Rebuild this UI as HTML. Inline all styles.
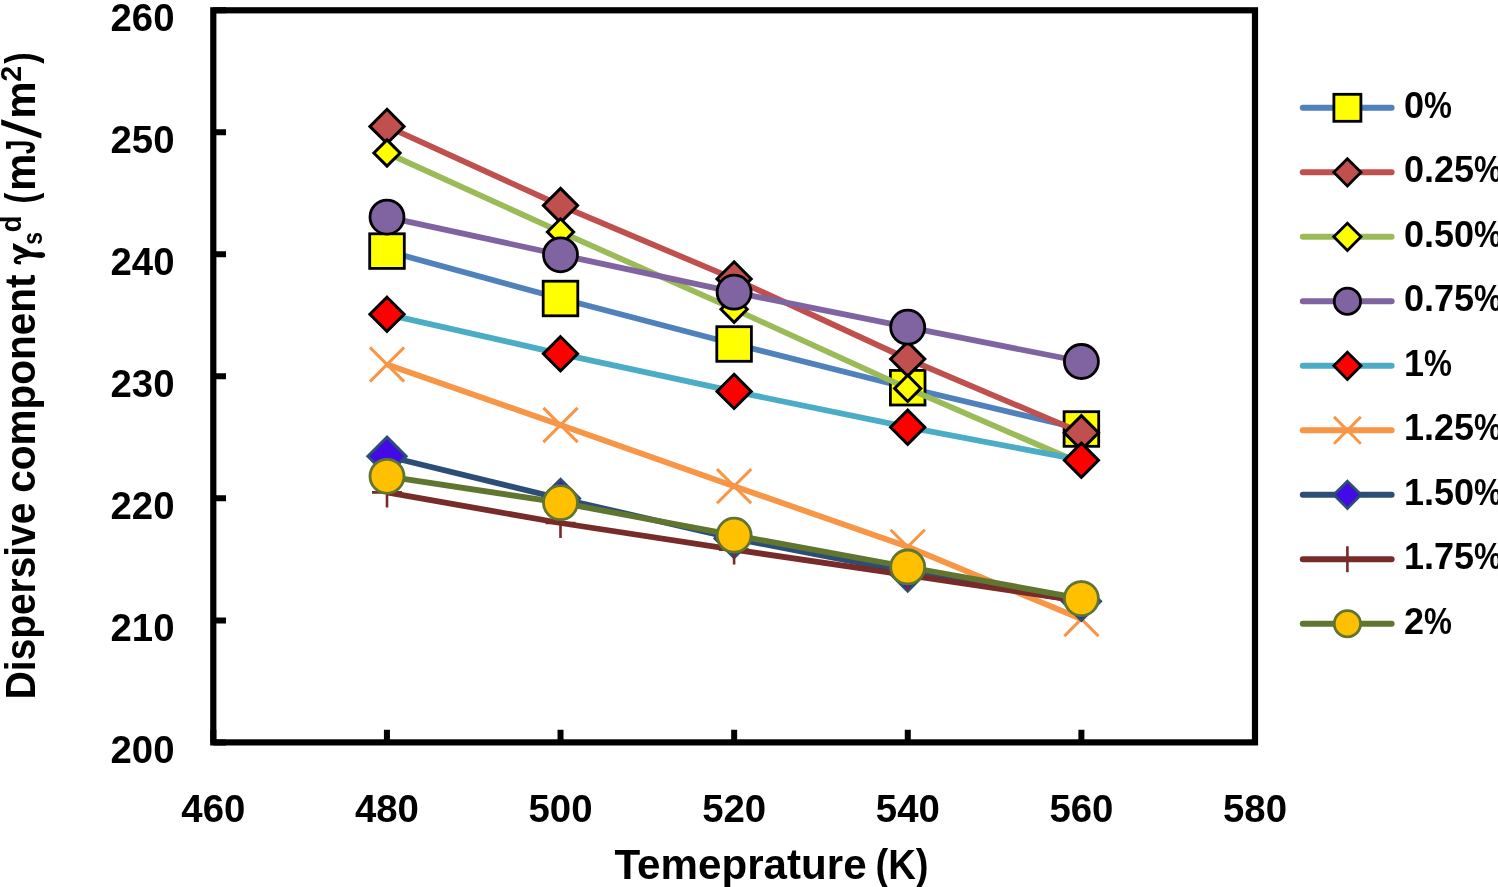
<!DOCTYPE html>
<html><head><meta charset="utf-8"><title>Dispersive component vs Temperature</title>
<style>
html,body{margin:0;padding:0;background:#fff;}
body{width:1498px;height:887px;overflow:hidden;}
svg{display:block;will-change:transform;}
text{font-family:"Liberation Sans",sans-serif;font-weight:bold;fill:#000;}
</style></head><body>
<svg width="1498" height="887" viewBox="0 0 1498 887">
<rect width="1498" height="887" fill="#fff"/>

<rect x="213.3" y="10.3" width="1041.7" height="732.1" fill="none" stroke="#000" stroke-width="6.2"/>
<path d="M213.3 10.30H226.0M213.3 132.32H226.0M213.3 254.33H226.0M213.3 376.35H226.0M213.3 498.37H226.0M213.3 620.38H226.0M213.3 742.40H226.0M213.30 742.4V729.8M386.92 742.4V729.8M560.53 742.4V729.8M734.15 742.4V729.8M907.77 742.4V729.8M1081.38 742.4V729.8M1255.00 742.4V729.8" stroke="#000" stroke-width="6" fill="none"/>
<text x="174.5" y="30.9" font-size="39" text-anchor="end" textLength="64" lengthAdjust="spacingAndGlyphs">260</text>
<text x="174.5" y="152.9" font-size="39" text-anchor="end" textLength="64" lengthAdjust="spacingAndGlyphs">250</text>
<text x="174.5" y="274.9" font-size="39" text-anchor="end" textLength="64" lengthAdjust="spacingAndGlyphs">240</text>
<text x="174.5" y="397.0" font-size="39" text-anchor="end" textLength="64" lengthAdjust="spacingAndGlyphs">230</text>
<text x="174.5" y="519.0" font-size="39" text-anchor="end" textLength="64" lengthAdjust="spacingAndGlyphs">220</text>
<text x="174.5" y="641.0" font-size="39" text-anchor="end" textLength="64" lengthAdjust="spacingAndGlyphs">210</text>
<text x="174.5" y="763.0" font-size="39" text-anchor="end" textLength="64" lengthAdjust="spacingAndGlyphs">200</text>
<text x="213.3" y="821.6" font-size="39" text-anchor="middle" textLength="64" lengthAdjust="spacingAndGlyphs">460</text>
<text x="386.9" y="821.6" font-size="39" text-anchor="middle" textLength="64" lengthAdjust="spacingAndGlyphs">480</text>
<text x="560.5" y="821.6" font-size="39" text-anchor="middle" textLength="64" lengthAdjust="spacingAndGlyphs">500</text>
<text x="734.2" y="821.6" font-size="39" text-anchor="middle" textLength="64" lengthAdjust="spacingAndGlyphs">520</text>
<text x="907.8" y="821.6" font-size="39" text-anchor="middle" textLength="64" lengthAdjust="spacingAndGlyphs">540</text>
<text x="1081.4" y="821.6" font-size="39" text-anchor="middle" textLength="64" lengthAdjust="spacingAndGlyphs">560</text>
<text x="1255.0" y="821.6" font-size="39" text-anchor="middle" textLength="64" lengthAdjust="spacingAndGlyphs">580</text>
<text x="614.5" y="879" font-size="42" textLength="252.1" lengthAdjust="spacingAndGlyphs">Temeprature</text>
<text x="875.4" y="879" font-size="42" textLength="53.1" lengthAdjust="spacingAndGlyphs">(K)</text>
<text x="-699.20" y="35.20" font-size="43" textLength="196.43" lengthAdjust="spacingAndGlyphs" transform="rotate(-90)">Dispersive</text>
<text x="-492.68" y="35.20" font-size="43" textLength="218.18" lengthAdjust="spacingAndGlyphs" transform="rotate(-90)">component</text>
<path d="M13 243.1L13 249.2L28 256C33 256.8 38 257.9 41.5 257.9C44 257.9 45.2 256.6 45.2 255.1C45.2 253.4 43.8 252.3 41.5 252.3C38 252.3 34.5 252.6 31.5 252.3Z" fill="#000"/>
<path d="M34 254.3C27 254.8 19.5 256 16.6 258.3C14.6 260 15.2 262.6 18 262.7L21 262.8" fill="none" stroke="#000" stroke-width="3.3"/>
<text x="-244.71" y="42.00" font-size="27.5" textLength="12.75" lengthAdjust="spacingAndGlyphs" transform="rotate(-90)">s</text>
<text x="-232.32" y="21.10" font-size="29" textLength="16.73" lengthAdjust="spacingAndGlyphs" transform="rotate(-90)">d</text>
<text x="-203.62" y="35.20" font-size="43" textLength="10.86" lengthAdjust="spacingAndGlyphs" transform="rotate(-90)">(</text>
<text x="-191.08" y="35.20" font-size="43" textLength="37.50" lengthAdjust="spacingAndGlyphs" transform="rotate(-90)">m</text>
<text x="-154.30" y="35.20" font-size="43" textLength="14.59" lengthAdjust="spacingAndGlyphs" transform="rotate(-90)">J</text>
<path d="M1.2 119.3L41.4 133.3L41.4 138.6L1.2 125.1Z" fill="#000"/>
<text x="-118.86" y="35.20" font-size="43" textLength="37.26" lengthAdjust="spacingAndGlyphs" transform="rotate(-90)">m</text>
<text x="-81.69" y="21.00" font-size="28.6" textLength="15.94" lengthAdjust="spacingAndGlyphs" transform="rotate(-90)">2</text>
<text x="-63.83" y="35.20" font-size="43" textLength="11.33" lengthAdjust="spacingAndGlyphs" transform="rotate(-90)">)</text>
<polyline points="387.0,251.1 560.5,298.5 734.1,344.0 907.7,387.7 1081.4,429.0" fill="none" stroke="#4F81BD" stroke-width="5.8" stroke-linejoin="round" stroke-linecap="butt"/>
<rect x="369.70" y="233.80" width="34.6" height="34.6" fill="#FFFF00" stroke="#000000" stroke-width="2.8"/>
<rect x="543.20" y="281.20" width="34.6" height="34.6" fill="#FFFF00" stroke="#000000" stroke-width="2.8"/>
<rect x="716.80" y="326.70" width="34.6" height="34.6" fill="#FFFF00" stroke="#000000" stroke-width="2.8"/>
<rect x="890.40" y="370.40" width="34.6" height="34.6" fill="#FFFF00" stroke="#000000" stroke-width="2.8"/>
<rect x="1064.10" y="411.70" width="34.6" height="34.6" fill="#FFFF00" stroke="#000000" stroke-width="2.8"/>
<polyline points="387.0,126.4 560.5,205.5 734.1,278.9 907.7,359.0 1081.4,432.7" fill="none" stroke="#C0504D" stroke-width="5.8" stroke-linejoin="round" stroke-linecap="butt"/>
<path d="M387.00 109.30L404.10 126.40L387.00 143.50L369.90 126.40Z" fill="#C0504D" stroke="#000000" stroke-width="3.0" stroke-linejoin="miter"/>
<path d="M560.50 188.40L577.60 205.50L560.50 222.60L543.40 205.50Z" fill="#C0504D" stroke="#000000" stroke-width="3.0" stroke-linejoin="miter"/>
<path d="M734.10 261.80L751.20 278.90L734.10 296.00L717.00 278.90Z" fill="#C0504D" stroke="#000000" stroke-width="3.0" stroke-linejoin="miter"/>
<path d="M907.70 341.90L924.80 359.00L907.70 376.10L890.60 359.00Z" fill="#C0504D" stroke="#000000" stroke-width="3.0" stroke-linejoin="miter"/>
<path d="M1081.40 415.60L1098.50 432.70L1081.40 449.80L1064.30 432.70Z" fill="#C0504D" stroke="#000000" stroke-width="3.0" stroke-linejoin="miter"/>
<polyline points="387.0,153.0 560.5,231.9 734.1,309.2 907.7,388.4 1081.4,463.5" fill="none" stroke="#9BBB59" stroke-width="5.8" stroke-linejoin="round" stroke-linecap="butt"/>
<path d="M387.00 139.90L400.10 153.00L387.00 166.10L373.90 153.00Z" fill="#FFFF00" stroke="#000000" stroke-width="3.0" stroke-linejoin="miter"/>
<path d="M560.50 218.80L573.60 231.90L560.50 245.00L547.40 231.90Z" fill="#FFFF00" stroke="#000000" stroke-width="3.0" stroke-linejoin="miter"/>
<path d="M734.10 296.10L747.20 309.20L734.10 322.30L721.00 309.20Z" fill="#FFFF00" stroke="#000000" stroke-width="3.0" stroke-linejoin="miter"/>
<path d="M907.70 375.30L920.80 388.40L907.70 401.50L894.60 388.40Z" fill="#FFFF00" stroke="#000000" stroke-width="3.0" stroke-linejoin="miter"/>
<path d="M1081.40 450.40L1094.50 463.50L1081.40 476.60L1068.30 463.50Z" fill="#FFFF00" stroke="#000000" stroke-width="3.0" stroke-linejoin="miter"/>
<polyline points="387.0,217.1 560.5,254.8 734.1,292.2 907.7,327.2 1081.4,361.5" fill="none" stroke="#8064A2" stroke-width="5.8" stroke-linejoin="round" stroke-linecap="butt"/>
<circle cx="387.00" cy="217.10" r="17.0" fill="#8064A2" stroke="#000000" stroke-width="2.8"/>
<circle cx="560.50" cy="254.80" r="17.0" fill="#8064A2" stroke="#000000" stroke-width="2.8"/>
<circle cx="734.10" cy="292.20" r="17.0" fill="#8064A2" stroke="#000000" stroke-width="2.8"/>
<circle cx="907.70" cy="327.20" r="17.0" fill="#8064A2" stroke="#000000" stroke-width="2.8"/>
<circle cx="1081.40" cy="361.50" r="17.0" fill="#8064A2" stroke="#000000" stroke-width="2.8"/>
<polyline points="387.0,314.3 560.5,353.8 734.1,391.4 907.7,427.2 1081.4,460.2" fill="none" stroke="#4BACC6" stroke-width="5.8" stroke-linejoin="round" stroke-linecap="butt"/>
<path d="M387.00 297.20L404.10 314.30L387.00 331.40L369.90 314.30Z" fill="#FF0000" stroke="#000000" stroke-width="3.0" stroke-linejoin="miter"/>
<path d="M560.50 336.70L577.60 353.80L560.50 370.90L543.40 353.80Z" fill="#FF0000" stroke="#000000" stroke-width="3.0" stroke-linejoin="miter"/>
<path d="M734.10 374.30L751.20 391.40L734.10 408.50L717.00 391.40Z" fill="#FF0000" stroke="#000000" stroke-width="3.0" stroke-linejoin="miter"/>
<path d="M907.70 410.10L924.80 427.20L907.70 444.30L890.60 427.20Z" fill="#FF0000" stroke="#000000" stroke-width="3.0" stroke-linejoin="miter"/>
<path d="M1081.40 443.10L1098.50 460.20L1081.40 477.30L1064.30 460.20Z" fill="#FF0000" stroke="#000000" stroke-width="3.0" stroke-linejoin="miter"/>
<polyline points="387.0,364.5 560.5,425.0 734.1,486.2 907.7,546.8 1081.4,619.0" fill="none" stroke="#F79646" stroke-width="5.8" stroke-linejoin="round" stroke-linecap="butt"/>
<path d="M369.90 347.40L404.10 381.60M369.90 381.60L404.10 347.40" stroke="#F79646" stroke-width="3.0" fill="none"/>
<path d="M543.40 407.90L577.60 442.10M543.40 442.10L577.60 407.90" stroke="#F79646" stroke-width="3.0" fill="none"/>
<path d="M717.00 469.10L751.20 503.30M717.00 503.30L751.20 469.10" stroke="#F79646" stroke-width="3.0" fill="none"/>
<path d="M890.60 529.70L924.80 563.90M890.60 563.90L924.80 529.70" stroke="#F79646" stroke-width="3.0" fill="none"/>
<path d="M1064.30 601.90L1098.50 636.10M1064.30 636.10L1098.50 601.90" stroke="#F79646" stroke-width="3.0" fill="none"/>
<polyline points="387.0,456.2 560.5,498.5 734.1,538.5 907.7,572.1 1081.4,601.3" fill="none" stroke="#2C4D75" stroke-width="5.8" stroke-linejoin="round" stroke-linecap="butt"/>
<path d="M387.00 437.10L406.10 456.20L387.00 475.30L367.90 456.20Z" fill="#420AE6" stroke="#2C4D75" stroke-width="3.0" stroke-linejoin="miter"/>
<path d="M560.50 479.40L579.60 498.50L560.50 517.60L541.40 498.50Z" fill="#420AE6" stroke="#2C4D75" stroke-width="3.0" stroke-linejoin="miter"/>
<path d="M734.10 519.40L753.20 538.50L734.10 557.60L715.00 538.50Z" fill="#420AE6" stroke="#2C4D75" stroke-width="3.0" stroke-linejoin="miter"/>
<path d="M907.70 553.00L926.80 572.10L907.70 591.20L888.60 572.10Z" fill="#420AE6" stroke="#2C4D75" stroke-width="3.0" stroke-linejoin="miter"/>
<path d="M1081.40 582.20L1100.50 601.30L1081.40 620.40L1062.30 601.30Z" fill="#420AE6" stroke="#2C4D75" stroke-width="3.0" stroke-linejoin="miter"/>
<polyline points="387.0,492.4 560.5,523.0 734.1,549.6 907.7,575.2 1081.4,601.1" fill="none" stroke="#772C2A" stroke-width="5.8" stroke-linejoin="round" stroke-linecap="butt"/>
<path d="M372.00 492.40L402.00 492.40M387.00 477.40L387.00 507.40" stroke="#772C2A" stroke-width="2.6" fill="none"/>
<path d="M545.50 523.00L575.50 523.00M560.50 508.00L560.50 538.00" stroke="#772C2A" stroke-width="2.6" fill="none"/>
<path d="M719.10 549.60L749.10 549.60M734.10 534.60L734.10 564.60" stroke="#772C2A" stroke-width="2.6" fill="none"/>
<path d="M892.70 575.20L922.70 575.20M907.70 560.20L907.70 590.20" stroke="#772C2A" stroke-width="2.6" fill="none"/>
<path d="M1066.40 601.10L1096.40 601.10M1081.40 586.10L1081.40 616.10" stroke="#772C2A" stroke-width="2.6" fill="none"/>
<polyline points="387.0,476.3 560.5,502.7 734.1,535.2 907.7,567.0 1081.4,598.6" fill="none" stroke="#5F7530" stroke-width="5.8" stroke-linejoin="round" stroke-linecap="butt"/>
<circle cx="387.00" cy="476.30" r="17.0" fill="#FFC000" stroke="#5F7530" stroke-width="2.8"/>
<circle cx="560.50" cy="502.70" r="17.0" fill="#FFC000" stroke="#5F7530" stroke-width="2.8"/>
<circle cx="734.10" cy="535.20" r="17.0" fill="#FFC000" stroke="#5F7530" stroke-width="2.8"/>
<circle cx="907.70" cy="567.00" r="17.0" fill="#FFC000" stroke="#5F7530" stroke-width="2.8"/>
<circle cx="1081.40" cy="598.60" r="17.0" fill="#FFC000" stroke="#5F7530" stroke-width="2.8"/>
<path d="M1302.8 107.8H1391.6" stroke="#4F81BD" stroke-width="6" stroke-linecap="round"/>
<rect x="1333.90" y="94.30" width="27" height="27" fill="#FFFF00" stroke="#000000" stroke-width="2.8"/>
<text x="1403.9" y="117.8" font-size="36">0</text>
<text x="1423.92" y="117.8" font-size="36" textLength="27.85" lengthAdjust="spacingAndGlyphs">%</text>
<path d="M1302.8 172.3H1391.6" stroke="#C0504D" stroke-width="6" stroke-linecap="round"/>
<path d="M1347.40 158.70L1361.00 172.30L1347.40 185.90L1333.80 172.30Z" fill="#C0504D" stroke="#000000" stroke-width="2.8" stroke-linejoin="miter"/>
<text x="1403.9" y="182.3" font-size="36">0.25</text>
<text x="1473.97" y="182.3" font-size="36" textLength="27.85" lengthAdjust="spacingAndGlyphs">%</text>
<path d="M1302.8 236.8H1391.6" stroke="#9BBB59" stroke-width="6" stroke-linecap="round"/>
<path d="M1347.40 223.20L1361.00 236.80L1347.40 250.40L1333.80 236.80Z" fill="#FFFF00" stroke="#000000" stroke-width="2.8" stroke-linejoin="miter"/>
<text x="1403.9" y="246.8" font-size="36">0.50</text>
<text x="1473.97" y="246.8" font-size="36" textLength="27.85" lengthAdjust="spacingAndGlyphs">%</text>
<path d="M1302.8 301.3H1391.6" stroke="#8064A2" stroke-width="6" stroke-linecap="round"/>
<circle cx="1347.40" cy="301.30" r="13.15" fill="#8064A2" stroke="#000000" stroke-width="2.8"/>
<text x="1403.9" y="311.3" font-size="36">0.75</text>
<text x="1473.97" y="311.3" font-size="36" textLength="27.85" lengthAdjust="spacingAndGlyphs">%</text>
<path d="M1302.8 365.8H1391.6" stroke="#4BACC6" stroke-width="6" stroke-linecap="round"/>
<path d="M1347.40 352.20L1361.00 365.80L1347.40 379.40L1333.80 365.80Z" fill="#FF0000" stroke="#000000" stroke-width="2.8" stroke-linejoin="miter"/>
<text x="1403.9" y="375.8" font-size="36">1</text>
<text x="1423.92" y="375.8" font-size="36" textLength="27.85" lengthAdjust="spacingAndGlyphs">%</text>
<path d="M1302.8 430.3H1391.6" stroke="#F79646" stroke-width="6" stroke-linecap="round"/>
<path d="M1334.00 416.90L1360.80 443.70M1334.00 443.70L1360.80 416.90" stroke="#F79646" stroke-width="2.9" fill="none"/>
<text x="1403.9" y="440.3" font-size="36">1.25</text>
<text x="1473.97" y="440.3" font-size="36" textLength="27.85" lengthAdjust="spacingAndGlyphs">%</text>
<path d="M1302.8 494.8H1391.6" stroke="#2C4D75" stroke-width="6" stroke-linecap="round"/>
<path d="M1347.40 481.20L1361.00 494.80L1347.40 508.40L1333.80 494.80Z" fill="#420AE6" stroke="#2C4D75" stroke-width="2.8" stroke-linejoin="miter"/>
<text x="1403.9" y="504.8" font-size="36">1.50</text>
<text x="1473.97" y="504.8" font-size="36" textLength="27.85" lengthAdjust="spacingAndGlyphs">%</text>
<path d="M1302.8 559.3H1391.6" stroke="#772C2A" stroke-width="6" stroke-linecap="round"/>
<path d="M1334.40 559.30L1360.40 559.30M1347.40 546.30L1347.40 572.30" stroke="#772C2A" stroke-width="2.6" fill="none"/>
<text x="1403.9" y="569.3" font-size="36">1.75</text>
<text x="1473.97" y="569.3" font-size="36" textLength="27.85" lengthAdjust="spacingAndGlyphs">%</text>
<path d="M1302.8 623.8H1391.6" stroke="#5F7530" stroke-width="6" stroke-linecap="round"/>
<circle cx="1347.40" cy="623.80" r="13.15" fill="#FFC000" stroke="#5F7530" stroke-width="2.8"/>
<text x="1403.9" y="633.8" font-size="36">2</text>
<text x="1423.92" y="633.8" font-size="36" textLength="27.85" lengthAdjust="spacingAndGlyphs">%</text>
</svg>
</body></html>
